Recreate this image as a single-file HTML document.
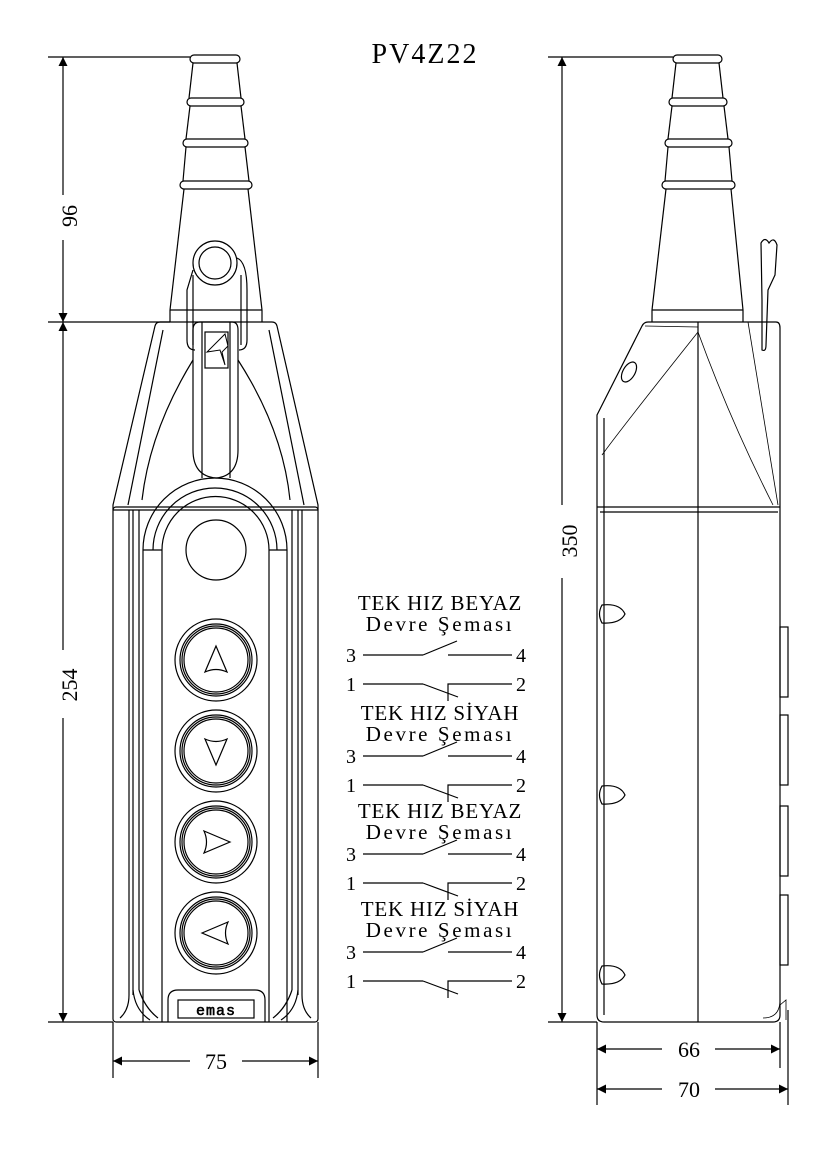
<!DOCTYPE html>
<html><head><meta charset="utf-8"><style>
html,body{margin:0;padding:0;background:#fff;}
svg{display:block;}
text{font-family:"Liberation Serif",serif;fill:#000;}
</style></head><body>
<svg width="836" height="1153" viewBox="0 0 836 1153" xmlns="http://www.w3.org/2000/svg">
<defs>
<marker id="a" viewBox="0 0 10 10" refX="10" refY="5" markerWidth="18" markerHeight="9" markerUnits="userSpaceOnUse" orient="auto-start-reverse"><path d="M0,0 L10,5 L0,10 z" fill="#000"/></marker>
</defs>
<g stroke="#000" stroke-width="1.2" fill="none">
<!-- FRONT VIEW dims -->
<line x1="48" y1="57" x2="190" y2="57"/>
<line x1="48" y1="322" x2="170" y2="322"/>
<line x1="48" y1="1022" x2="113" y2="1022"/>
<line x1="63" y1="57" x2="63" y2="195" marker-start="url(#a)"/>
<line x1="63" y1="240" x2="63" y2="322" marker-end="url(#a)"/>
<line x1="63" y1="322" x2="63" y2="650" marker-start="url(#a)"/>
<line x1="63" y1="718" x2="63" y2="1022" marker-end="url(#a)"/>
<line x1="113" y1="1022" x2="113" y2="1078"/>
<line x1="318" y1="1022" x2="318" y2="1078"/>
<line x1="113" y1="1061" x2="190" y2="1061" marker-start="url(#a)"/>
<line x1="242" y1="1061" x2="318" y2="1061" marker-end="url(#a)"/>

<!-- gland front -->
<rect x="190" y="55" width="50" height="8" rx="4"/>
<rect x="187" y="98" width="57" height="8" rx="4"/>
<rect x="183" y="139" width="65" height="8" rx="4"/>
<rect x="180" y="181" width="72" height="8" rx="4"/>
<line x1="193" y1="63" x2="189" y2="98"/><line x1="237" y1="63" x2="241" y2="98"/>
<line x1="190" y1="106" x2="186" y2="139"/><line x1="241" y1="106" x2="245" y2="139"/>
<line x1="186" y1="147" x2="183" y2="181"/><line x1="245" y1="147" x2="249" y2="181"/>
<line x1="184" y1="189" x2="170" y2="310"/><line x1="248" y1="189" x2="262" y2="310"/>
<line x1="170" y1="310" x2="262" y2="310"/>
<line x1="170" y1="310" x2="170" y2="322"/><line x1="262" y1="310" x2="262" y2="322"/>
<!-- loop -->
<circle cx="215" cy="263" r="22"/>
<circle cx="215" cy="263" r="16"/>
<path d="M193,270 L187,290 L187,340 Q187,350 195,350 M237,258 Q247,262 247,290 L247,340 Q247,350 239,350"/>
<path d="M193,275 L193,345 M241,275 L241,345"/>
<!-- upper body -->
<path d="M160,322 L272,322 Q276,322 277,326 L318,505 L318,510 M160,322 Q156,322 155,326 L113,505 L113,510"/>
<path d="M163,330 L128,505 M269,330 L304,505"/>
<path d="M193,360 Q150,430 142,500 M238,360 Q283,430 290,500"/>
<!-- strap -->
<path d="M193,330 Q193,322 200,322 L232,322 Q238,322 238,330 L238,450 Q238,476 216,478 Q193,476 193,450 Z"/>
<line x1="202" y1="322" x2="202" y2="478"/><line x1="230" y1="322" x2="230" y2="478"/>
<rect x="205" y="332" width="23" height="36"/>
<path d="M225,334 L207,352 L220,350 L225,365 L222,352 L228,346 Z" stroke-width="1"/>
<!-- main body -->
<rect x="113" y="507" width="205" height="515" rx="3"/>
<line x1="113" y1="510" x2="318" y2="510"/>
<line x1="129" y1="510" x2="129" y2="995"/><line x1="133" y1="510" x2="133" y2="995"/>
<line x1="139" y1="510" x2="139" y2="990"/>
<line x1="302" y1="510" x2="302" y2="995"/><line x1="298" y1="510" x2="298" y2="995"/>
<line x1="292" y1="510" x2="292" y2="990"/>
<path d="M129,995 Q129,1010 120,1018 M133,990 Q135,1010 150,1020 M139,990 Q145,1008 158,1018"/>
<path d="M302,995 Q302,1010 311,1018 M298,990 Q296,1010 281,1020 M292,990 Q286,1008 273,1018"/>
<!-- arches -->
<path d="M143,1022 L143,550 A72,72 0 0 1 287,550 L287,1022"/>
<path d="M153,550 A62,62 0 0 1 277,550"/>
<path d="M162,1022 L162,550 A53.5,53.5 0 0 1 269,550 L269,1022"/>
<line x1="143" y1="550" x2="162" y2="550"/><line x1="269" y1="550" x2="287" y2="550"/>
<circle cx="216" cy="550" r="30"/>
<!-- buttons -->
<g id="btn">
<circle cx="216" cy="660" r="41"/>
<circle cx="216" cy="660" r="36"/>
<circle cx="216" cy="660" r="34"/>
<circle cx="216" cy="660" r="32"/>
</g>
<use href="#btn" y="91"/><use href="#btn" y="182"/><use href="#btn" y="273"/>
<path d="M216,646 L205,672 Q216,667 227,672 Z"/>
<path d="M216,765 L205,739 Q216,744 227,739 Z"/>
<path d="M230,842 L204,831 Q209,842 204,853 Z"/>
<path d="M202,933 L228,922 Q223,933 228,944 Z"/>
<!-- emas -->
<path d="M168,1022 L168,1000 Q168,990 178,990 L255,990 Q265,990 265,1000 L265,1022"/>
<rect x="178" y="1000" width="76" height="18"/>
<text x="216" y="1015" font-size="15" text-anchor="middle" stroke-width="0.6" style="font-family:'Liberation Mono',monospace;letter-spacing:1px">emas</text>

<!-- RIGHT VIEW dims -->
<line x1="548" y1="57" x2="673" y2="57"/>
<line x1="548" y1="1022" x2="597" y2="1022"/>
<line x1="562" y1="57" x2="562" y2="505" marker-start="url(#a)"/>
<line x1="562" y1="578" x2="562" y2="1022" marker-end="url(#a)"/>
<line x1="597" y1="1022" x2="597" y2="1105"/>
<line x1="780" y1="1022" x2="780" y2="1068"/>
<line x1="788" y1="1010" x2="788" y2="1105"/>
<line x1="597" y1="1049" x2="662" y2="1049" marker-start="url(#a)"/>
<line x1="715" y1="1049" x2="780" y2="1049" marker-end="url(#a)"/>
<line x1="597" y1="1089" x2="662" y2="1089" marker-start="url(#a)"/>
<line x1="715" y1="1089" x2="788" y2="1089" marker-end="url(#a)"/>
<!-- gland right -->
<rect x="673" y="55" width="49" height="8" rx="4"/>
<rect x="669" y="98" width="58" height="8" rx="4"/>
<rect x="665" y="139" width="67" height="8" rx="4"/>
<rect x="662" y="181" width="73" height="8" rx="4"/>
<line x1="676" y1="63" x2="672" y2="98"/><line x1="719" y1="63" x2="723" y2="98"/>
<line x1="672" y1="106" x2="668" y2="139"/><line x1="724" y1="106" x2="728" y2="139"/>
<line x1="668" y1="147" x2="665" y2="181"/><line x1="729" y1="147" x2="732" y2="181"/>
<line x1="666" y1="189" x2="652" y2="310"/><line x1="731" y1="189" x2="743" y2="310"/>
<line x1="652" y1="310" x2="743" y2="310"/>
<line x1="652" y1="310" x2="652" y2="322"/><line x1="743" y1="310" x2="743" y2="322"/>
<!-- body right -->
<path d="M648,322 L776,322 Q780,322 780,328 L780,1015 Q780,1022 773,1022 L604,1022 Q597,1022 597,1015 L597,415 L642,326 Q644,322 648,322"/>
<line x1="698" y1="322" x2="698" y2="1022"/>
<line x1="604" y1="418" x2="604" y2="1015"/>
<line x1="597" y1="507" x2="780" y2="507"/><line x1="600" y1="512" x2="778" y2="512"/>
<path d="M645,326 L698,327 M698,332 Q620,430 602,455 M698,332 Q730,420 773,505 M748,322 L778,505" stroke-width="0.8"/>
<ellipse cx="629" cy="372" rx="6" ry="11" transform="rotate(30 629 372)"/>
<path d="M761,243 Q765,236 769,243 Q774,236 777,245 L775,275 L768,290 L766,345 Q766,352 762,350 L762,300 Z"/>
<!-- side ovals -->
<path d="M602,605 Q620,603 625,614 Q620,624 602,623 Q597,614 602,605 Z"/>
<path d="M602,786 Q620,784 625,795 Q620,805 602,804 Q597,795 602,786 Z"/>
<path d="M602,966 Q620,964 625,975 Q620,985 602,984 Q597,975 602,966 Z"/>
<!-- side buttons -->
<rect x="780" y="627" width="8" height="70"/>
<rect x="780" y="715" width="8" height="70"/>
<rect x="780" y="806" width="8" height="70"/>
<rect x="780" y="895" width="8" height="70"/>
<path d="M780,1000 Q780,1018 763,1018 M780,1005 L786,1000 L786,1020" stroke-width="0.8"/>

<!-- circuits -->
<g id="c">
<line x1="363" y1="655" x2="423" y2="655"/><line x1="423" y1="655" x2="457" y2="641"/>
<line x1="448" y1="655" x2="512" y2="655"/>
<line x1="363" y1="684" x2="423" y2="684"/><line x1="423" y1="684" x2="458" y2="697"/>
<path d="M448,701 L448,684 L512,684"/>
</g>
<use href="#c" y="101"/><use href="#c" y="199"/><use href="#c" y="297"/>
</g>
<g font-size="28"><text x="425" y="63" text-anchor="middle" letter-spacing="2">PV4Z22</text></g>
<g font-size="22" text-anchor="middle">
<text x="70" y="216" transform="rotate(-90 70 216)" dy="7">96</text>
<text x="70" y="685" transform="rotate(-90 70 685)" dy="7">254</text>
<text x="570" y="541" transform="rotate(-90 570 541)" dy="7">350</text>
<text x="216" y="1069">75</text>
<text x="689" y="1057">66</text>
<text x="689" y="1097">70</text>
</g>
<g font-size="21" text-anchor="middle">
<text x="440" y="610" letter-spacing="0.8">TEK HIZ BEYAZ</text><text x="440" y="631" letter-spacing="2.6">Devre Şeması</text>
<text x="440" y="720" letter-spacing="0.8">TEK HIZ SİYAH</text><text x="440" y="741" letter-spacing="2.6">Devre Şeması</text>
<text x="440" y="818" letter-spacing="0.8">TEK HIZ BEYAZ</text><text x="440" y="839" letter-spacing="2.6">Devre Şeması</text>
<text x="440" y="916" letter-spacing="0.8">TEK HIZ SİYAH</text><text x="440" y="937" letter-spacing="2.6">Devre Şeması</text>
</g>
<g font-size="20">
<text x="346" y="662">3</text><text x="516" y="662">4</text>
<text x="346" y="691">1</text><text x="516" y="691">2</text>
<text x="346" y="763">3</text><text x="516" y="763">4</text>
<text x="346" y="792">1</text><text x="516" y="792">2</text>
<text x="346" y="861">3</text><text x="516" y="861">4</text>
<text x="346" y="890">1</text><text x="516" y="890">2</text>
<text x="346" y="959">3</text><text x="516" y="959">4</text>
<text x="346" y="988">1</text><text x="516" y="988">2</text>
</g>
</svg>
</body></html>
